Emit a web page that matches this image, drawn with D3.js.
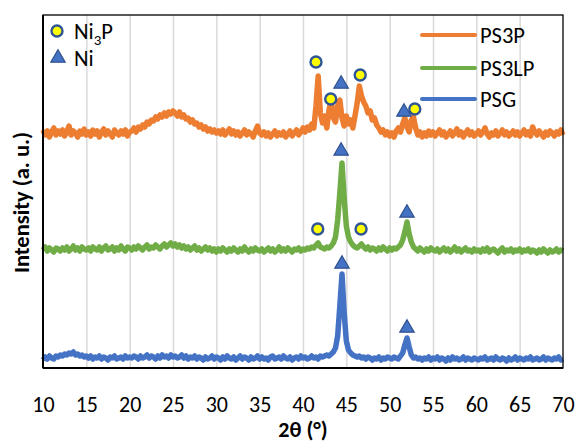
<!DOCTYPE html>
<html>
<head>
<meta charset="utf-8">
<script src="https://cdn.jsdelivr.net/npm/d3@7"></script>
<style>
  html, body { margin: 0; padding: 0; background: #fff; }
  svg { display: block; font-family: Carlito, Lato, "Liberation Sans", sans-serif; }
</style>
</head>
<body>
<svg id="chart" width="580" height="442"></svg>
<script>
// 2theta grid: 10 .. 70 in 0.25 deg steps (241 points)
const twoTheta = d3.range(241).map(i => 10 + i * 0.25);
const xTicks = [10, 15, 20, 25, 30, 35, 40, 45, 50, 55, 60, 65, 70];

// intensities (arbitrary units, offset stacked as in the figure)
const psg = [
  8,11,9,12,10,9,12,11,13,
  12,14,13,15,14,16,13,14,12,13,11,12,
  10,12,9,11,10,12,9,11,10,8,11,10,12,9,10,11,9,12,10,11,
  10,12,11,9,12,10,11,13,10,12,11,9,12,10,13,11,12,10,13,11,
  12,10,11,13,10,12,9,11,10,12,9,11,10,8,11,9,10,12,9,11,
  10,8,11,9,12,10,9,11,8,10,12,9,11,10,8,11,9,10,12,9,
  11,9,10,8,11,12,9,10,11,9,12,10,9,11,8,10,11,9,12,10,
  11,9,10,12,10,11,9,12,
  11,12,13,12,14,16,20,32,
  62,94,55,27,
  18,15,13,12,11,12,10,11,
  9,11,10,8,10,9,11,8,10,9,11,10,
  9,11,10,9,12,
  15,23,30,21,13,10,
  11,9,10,8,10,9,11,8,10,
  9,11,8,10,9,7,10,8,11,9,10,8,9,11,8,10,9,8,10,9,
  8,10,9,11,8,9,10,8,11,9,8,10,9,7,10,8,9,11,8,10,
  9,8,10,9,11,8,9,10,8,9,11,8,10,9,8,10,9,11,8,9
];
const ps3lp = [
  118,121,117,120,118,116,120,119,117,
  120,118,121,117,119,122,118,120,117,121,119,118,
  120,117,121,119,118,121,117,120,122,118,119,121,117,120,118,122,119,117,121,120,
  118,121,119,122,120,118,121,123,119,121,120,123,121,119,122,124,121,123,125,122,
  124,121,123,120,122,119,121,118,120,122,118,120,117,119,121,118,120,117,119,116,
  119,117,120,118,116,119,117,120,118,116,119,117,121,118,116,119,117,120,118,117,
  119,116,118,120,117,119,116,118,121,117,119,117,120,118,116,119,118,120,117,119,
  118,120,119,121,120,123,125,121,
  120,119,121,120,122,125,131,148,
  175,205,170,142,
  131,126,123,121,120,122,124,121,
  119,121,118,120,119,117,120,118,121,119,117,120,
  118,120,119,121,123,
  128,136,146,134,126,121,
  119,117,120,118,116,119,117,120,118,
  117,119,116,118,120,117,119,116,118,121,117,119,116,118,120,117,118,116,119,117,
  118,116,119,117,120,116,118,119,117,115,118,120,116,118,117,119,116,118,117,119,
  116,118,117,119,116,118,117,115,118,116,119,117,115,118,116,117,119,116,118,117
];
const ps3p = [
  238,233,237,231,236,240,233,237,234,
  238,232,236,242,233,237,235,231,237,234,239,233,
  236,232,238,234,237,231,236,239,233,237,234,231,238,235,233,237,234,238,232,236,
  237,240,236,241,239,243,241,246,244,248,247,251,249,253,251,255,252,256,254,257,
  255,252,256,251,253,249,250,246,248,244,245,241,243,239,241,237,239,236,238,235,
  237,234,238,233,236,239,234,237,233,236,232,235,238,233,236,234,231,237,242,235,
  233,236,232,235,231,234,237,232,235,233,236,231,234,237,232,235,238,233,236,240,
  236,241,238,244,240,262,292,255,
  245,252,240,258,268,250,246,262,
  268,250,242,252,
  244,248,240,252,265,282,272,266,
  262,255,257,248,250,243,240,236,238,233,236,232,
  235,231,237,240,236,
  244,250,241,236,248,251,
  240,233,236,231,235,232,237,233,236,
  232,235,238,233,236,231,234,237,232,235,239,233,236,231,235,238,233,236,232,234,
  237,233,236,240,234,231,235,233,237,232,235,238,233,236,232,234,237,233,236,232,
  235,238,233,236,232,241,236,233,237,234,231,236,233,237,235,232,236,234,238,233
];

const seriesNames = ["PS3P", "PS3LP", "PSG"];
const seriesColors = ["#ed7d31", "#70ad47", "#4472c4"];
const seriesValues = [ps3p, ps3lp, psg];

// phase markers [2theta, intensity]
const ni3pMarks = [[41.5, 306], [43.2, 269], [46.6, 293], [52.9, 259], [41.7, 139], [46.7, 139]];
const niMarks = [[44.4, 285], [51.65, 257], [44.4, 218], [52.0, 156], [44.5, 105], [52.0, 41]];

const svg = d3.select("#chart");
const margin = { top: 15, right: 17, bottom: 74, left: 43 };
const W = 580, H = 442;
const x = d3.scaleLinear().domain([10, 70]).range([margin.left, W - margin.right]);
const y = d3.scaleLinear().domain([0, 353]).range([H - margin.bottom, margin.top]);

// vertical gridlines
svg.append("g")
  .attr("transform", `translate(0,${y(0)})`)
  .call(d3.axisBottom(x).tickValues(xTicks.slice(1, -1)).tickSize(-(y(0) - y(353))).tickFormat(""))
  .call(g => g.select(".domain").remove())
  .call(g => g.selectAll("line").attr("stroke", "#d9d9d9").attr("stroke-width", 1.5));

// x axis labels
svg.append("g")
  .attr("transform", `translate(0,${y(0)})`)
  .call(d3.axisBottom(x).tickValues(xTicks).tickSize(0).tickPadding(28).tickFormat(d3.format("d")))
  .call(g => g.select(".domain").remove())
  .call(g => g.selectAll("text").attr("font-size", 22).attr("fill", "#000")
    .style("font-family", "Carlito, Lato, sans-serif"));

// series lines
const line = d3.line().x((d, i) => x(twoTheta[i])).y(d => y(d));
seriesValues.forEach((vals, k) => {
  svg.append("path")
    .datum(vals)
    .attr("fill", "none")
    .attr("stroke", seriesColors[k])
    .attr("stroke-width", 5.5)
    .attr("stroke-linejoin", "round")
    .attr("d", line);
});

// plot border
svg.append("rect")
  .attr("x", x(10)).attr("y", y(353))
  .attr("width", x(70) - x(10)).attr("height", y(0) - y(353))
  .attr("fill", "none").attr("stroke", "#000").attr("stroke-width", 1.3);
svg.append("line")
  .attr("x1", x(10)).attr("x2", x(10)).attr("y1", y(353)).attr("y2", y(0))
  .attr("stroke", "#000").attr("stroke-width", 2);
svg.append("line")
  .attr("x1", x(10)).attr("x2", x(70)).attr("y1", y(0)).attr("y2", y(0))
  .attr("stroke", "#000").attr("stroke-width", 2);

// markers
const tri = d3.symbol().type(d3.symbolTriangle).size(90);
function drawCircle(cx, cy) {
  svg.append("circle").attr("cx", cx).attr("cy", cy).attr("r", 5.5)
    .attr("fill", "#ffff00").attr("stroke", "#2f5597").attr("stroke-width", 2.4);
}
function drawTri(cx, cy) {
  svg.append("path").attr("d", tri).attr("transform", `translate(${cx},${cy + 1})`)
    .attr("fill", "#4472c4").attr("stroke", "#2f528f").attr("stroke-width", 1.2);
}
ni3pMarks.forEach(d => drawCircle(x(d[0]), y(d[1])));
niMarks.forEach(d => drawTri(x(d[0]), y(d[1])));

// left legend (phases)
drawCircle(57, 31);
drawTri(58, 57);
const t1 = svg.append("text").attr("x", 74).attr("y", 39).attr("font-size", 22.5);
t1.append("tspan").text("Ni");
t1.append("tspan").attr("font-size", 15).attr("dy", 6).text("3");
t1.append("tspan").attr("dy", -6).text("P");
svg.append("text").attr("x", 74).attr("y", 66).attr("font-size", 22.5).text("Ni");

// right legend (samples)
const legY = [35, 68, 99];
seriesNames.forEach((name, k) => {
  svg.append("line").attr("x1", 422).attr("x2", 475).attr("y1", legY[k]).attr("y2", legY[k])
    .attr("stroke", seriesColors[k]).attr("stroke-width", 4).attr("stroke-linecap", "round");
  svg.append("text").attr("x", 480).attr("y", legY[k] + 8).attr("font-size", 22.5).text(name);
});

// axis titles
svg.append("text")
  .attr("x", (x(10) + x(70)) / 2).attr("y", 437)
  .attr("text-anchor", "middle").attr("font-size", 22).attr("font-weight", "bold")
  .text("2θ (°)");
svg.append("text")
  .attr("transform", `translate(29,${(y(0) + y(353)) / 2 + 11}) rotate(-90)`)
  .attr("text-anchor", "middle").attr("font-size", 22.5).attr("font-weight", "bold")
  .text("Intensity (a. u.)");
</script>
</body>
</html>
